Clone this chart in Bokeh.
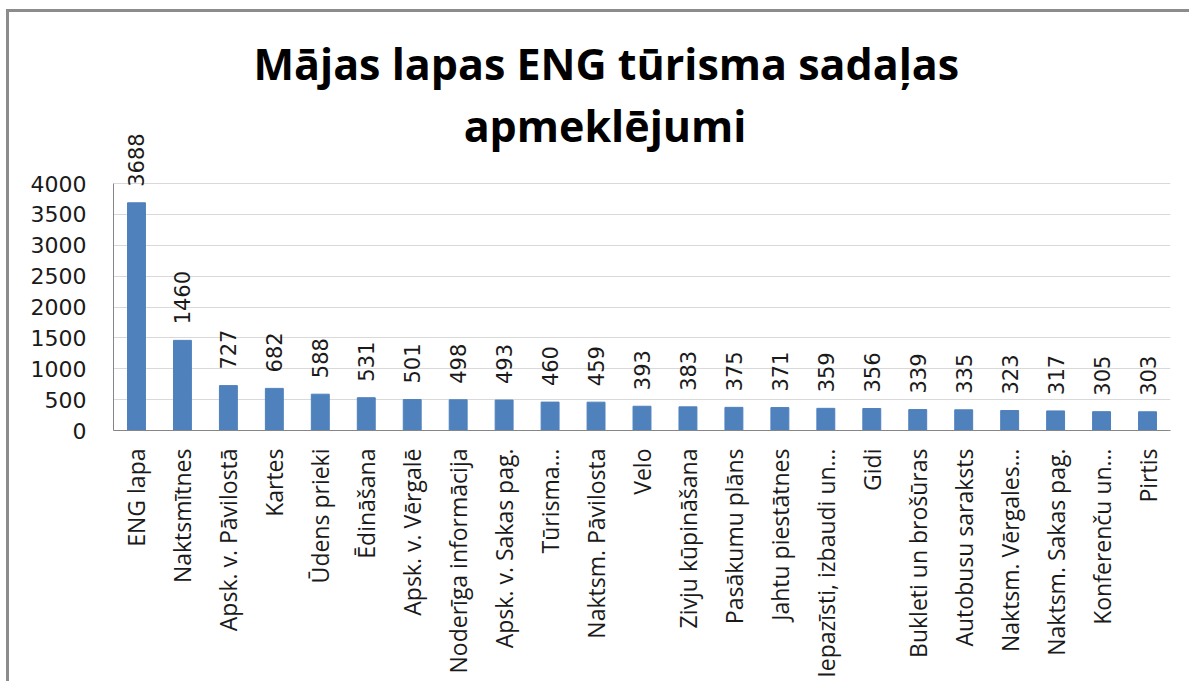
import math
from bokeh.plotting import figure
from bokeh.models import ColumnDataSource, LabelSet, Label, FactorRange, Range1d, FixedTicker, Title
from bokeh.core.properties import value
from bokeh.embed import file_html
from bokeh.resources import INLINE

categories = ["ENG lapa", "Naktsmītnes", "Apsk. v. Pāvilostā", "Kartes", "Ūdens prieki",
              "Ēdināšana", "Apsk. v. Vērgalē", "Noderīga informācija", "Apsk. v. Sakas pag.",
              "Tūrisma…", "Naktsm. Pāvilosta", "Velo", "Zivju kūpināšana", "Pasākumu plāns",
              "Jahtu piestātnes", "Iepazīsti, izbaudi un…", "Gidi", "Bukleti un brošūras",
              "Autobusu saraksts", "Naktsm. Vērgales…", "Naktsm. Sakas pag.", "Konferenču un…",
              "Pirtis"]
visits = [3688, 1460, 727, 682, 588, 531, 501, 498, 493, 460, 459, 393, 383, 375, 371,
          359, 356, 339, 335, 323, 317, 305, 303]
y_ticks = [0, 500, 1000, 1500, 2000, 2500, 3000, 3500, 4000]
title_line1 = "Mājas lapas ENG tūrisma sadaļas"
title_line2 = "apmeklējumi"

source = ColumnDataSource(dict(cat=categories, val=visits, lbl=[str(v) for v in visits]))

# frame spans y 0..5377 so that 4000 sits well below the top, leaving room for labels/title
p = figure(width=1183, height=672, output_backend="svg", toolbar_location=None,
           x_range=FactorRange(factors=categories, range_padding=0),
           y_range=Range1d(0, 5377),
           min_border_left=104, min_border_right=22, min_border_top=86, min_border_bottom=254)

p.title = Title(text=title_line1, align="left", offset=140, standoff=12,
                text_font="Open Sans", text_font_size="43px", text_font_style="bold",
                text_color="#000000")

# second title line, centred under the first
p.add_layout(Label(x=10.695, y=4940, text=title_line2, text_align="center",
                   text_baseline="alphabetic", text_font="Open Sans", text_font_size="43px",
                   text_font_style="bold", text_color="#000000"))

p.vbar(x="cat", top="val", width=0.39, source=source, color="#4F81BD")

labels = LabelSet(x="cat", y="val", text="lbl", source=source, angle=90, angle_units="deg",
                  text_align="left", text_baseline="middle", y_offset=16,
                  text_font=value("DejaVu Sans"), text_font_size=value("21px"),
                  text_color="#1a1a1a")
p.add_layout(labels)

p.outline_line_color = None
p.background_fill_color = "white"
p.border_fill_color = "white"

p.xgrid.grid_line_color = None
p.ygrid.grid_line_color = "#D9D9D9"
p.ygrid.grid_line_width = 1

p.yaxis.ticker = FixedTicker(ticks=y_ticks)
p.yaxis.bounds = (0, 4000)
p.yaxis.axis_line_color = "#868686"
p.yaxis.major_tick_line_color = None
p.yaxis.minor_tick_line_color = None
p.yaxis.major_tick_out = 0
p.yaxis.major_tick_in = 0
p.yaxis.major_label_text_font = "DejaVu Sans"
p.yaxis.major_label_text_font_size = "22px"
p.yaxis.major_label_text_color = "#1a1a1a"
p.yaxis.major_label_standoff = 27

p.xaxis.axis_line_color = "#868686"
p.xaxis.major_tick_line_color = None
p.xaxis.minor_tick_line_color = None
p.xaxis.major_tick_out = 0
p.xaxis.major_tick_in = 0
p.xaxis.major_label_orientation = math.pi / 2
p.xaxis.major_label_text_font = "Open Sans"
p.xaxis.major_label_text_font_size = "23px"
p.xaxis.major_label_text_color = "#1a1a1a"
p.xaxis.major_label_standoff = 18

p.styles = {"border-top": "3px solid #8c8c8c", "border-left": "3px solid #8c8c8c",
            "margin-left": "6px", "margin-top": "9px"}

open("out.html", "w").write(file_html(p, INLINE))
